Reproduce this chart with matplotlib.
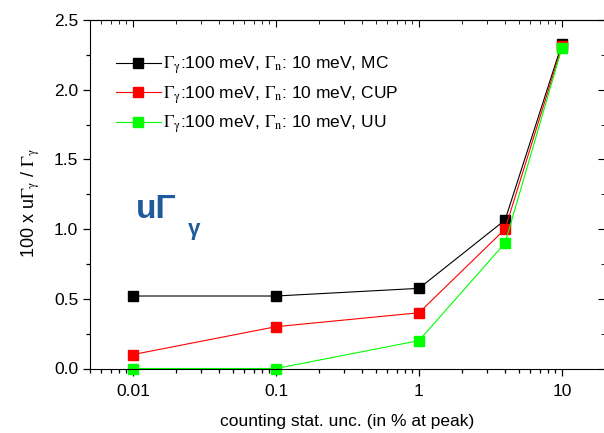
import numpy as np
import matplotlib
matplotlib.use('Agg')
import matplotlib.pyplot as plt
from matplotlib.ticker import LogLocator, MultipleLocator, FixedLocator, FixedFormatter, NullFormatter

plt.rcParams['font.family'] = ['Liberation Sans', 'DejaVu Sans']
plt.rcParams['mathtext.fontset'] = 'stix'

# данные
unc = [0.01, 0.1, 1, 4, 10]
mc = [0.52, 0.52, 0.575, 1.065, 2.33]
cup = [0.10, 0.30, 0.40, 1.00, 2.31]
uu = [0.0, 0.0, 0.20, 0.90, 2.30]
labels = [r'$\Gamma_\mathrm{\gamma}$:100 meV, $\Gamma_\mathrm{n}$: 10 meV, MC',
          r'$\Gamma_\mathrm{\gamma}$:100 meV, $\Gamma_\mathrm{n}$: 10 meV, CUP',
          r'$\Gamma_\mathrm{\gamma}$:100 meV, $\Gamma_\mathrm{n}$: 10 meV, UU']
colors = ['black', '#ff0000', '#00ff00']
xticks = [0.01, 0.1, 1, 10]
xticklabels = ['0.01', '0.1', '1', '10']

fig = plt.figure(figsize=(6.04, 4.33), dpi=100)
ax = fig.add_axes([90 / 604, 1 - 368.5 / 433, 515 / 604, 348.5 / 433])

for y, c, lab in zip([mc, cup, uu], colors, labels):
    ax.plot(unc, y, color=c, lw=0.8, marker='s', ms=6.5, mec=c, mfc=c,
            label=lab, clip_on=False)

ax.set_xscale('log')
ax.set_xlim(0.005, 20)
ax.set_ylim(0, 2.5)
ax.xaxis.set_major_locator(FixedLocator(xticks))
ax.xaxis.set_major_formatter(FixedFormatter(xticklabels))
ax.xaxis.set_minor_locator(LogLocator(base=10, subs=np.arange(2, 10)))
ax.xaxis.set_minor_formatter(NullFormatter())
ax.yaxis.set_major_locator(MultipleLocator(0.5))
ax.yaxis.set_minor_locator(MultipleLocator(0.25))
ax.yaxis.set_major_formatter(plt.FuncFormatter(lambda v, p: '%.1f' % v))

ax.tick_params(which='both', direction='out', labelsize=12.5, width=0.9)
ax.tick_params(which='major', length=5)
ax.tick_params(which='minor', length=3)
ax.tick_params(axis='x', pad=6)

# зеркальные тики сверху и справа, внутрь
secx = ax.secondary_xaxis('top')
secx.set_xticks(xticks)
secx.xaxis.set_minor_locator(LogLocator(base=10, subs=np.arange(2, 10)))
secx.tick_params(which='both', direction='in', labeltop=False)
secx.tick_params(which='major', length=5)
secx.tick_params(which='minor', length=3)
secx.xaxis.set_minor_formatter(NullFormatter())
secy = ax.secondary_yaxis('right')
secy.yaxis.set_major_locator(MultipleLocator(0.5))
secy.yaxis.set_minor_locator(MultipleLocator(0.25))
secy.tick_params(which='both', direction='in', labelright=False)
secy.tick_params(which='major', length=5)
secy.tick_params(which='minor', length=3)

ax.set_xlabel('counting stat. unc. (in % at peak)', fontsize=12.5, labelpad=11)
ax.set_ylabel(r'100 x u$\Gamma_\mathrm{\gamma}$ / $\Gamma_\mathrm{\gamma}$', fontsize=13)
ax.yaxis.set_label_coords(-0.093, 0.475)

ax.legend(loc='upper left', bbox_to_anchor=(0.05, 0.9), frameon=False,
          fontsize=12.5, handlelength=2.6, handletextpad=0.15,
          borderaxespad=0, borderpad=0, labelspacing=0.45)

fig.text(136 / 604, 1 - 218 / 433, 'u\u0393', fontsize=24, fontweight='bold',
         color='#1f5b9b', va='baseline', ha='left')
fig.text(188 / 604, 1 - 235 / 433, '\u03b3', fontsize=16, fontweight='bold',
         color='#1f5b9b', va='baseline', ha='left')

fig.savefig('out.png', dpi=100)
